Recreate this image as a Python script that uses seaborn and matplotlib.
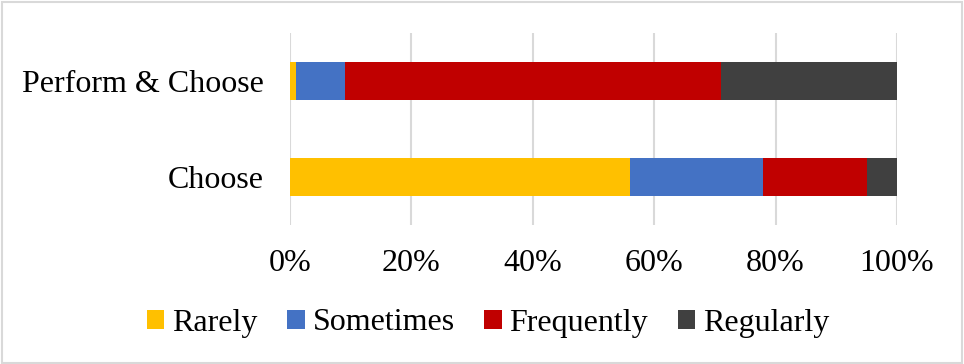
import matplotlib
matplotlib.use("Agg")
import matplotlib.pyplot as plt
from matplotlib.patches import Patch, Rectangle
import numpy as np
import pandas as pd
import seaborn as sns

# Share of responses (%) per frequency level, for each activity
categories = ["Perform & Choose", "Choose"]
levels = ["Rarely", "Sometimes", "Frequently", "Regularly"]
rarely = [1, 56]
sometimes = [8, 22]
frequently = [62, 17]
regularly = [29, 5]
colors = ["#FFC000", "#4472C4", "#C00000", "#404040"]
xticks = [0, 20, 40, 60, 80, 100]
xtick_labels = ["0%", "20%", "40%", "60%", "80%", "100%"]

sns.set_style("white")
plt.rcParams["font.family"] = ["Liberation Serif", "DejaVu Serif"]
plt.rcParams["text.color"] = "black"
FS = 23

values = np.array([rarely, sometimes, frequently, regularly], dtype=float)
cumulative = values.cumsum(axis=0)

fig = plt.figure(figsize=(9.64, 3.64), dpi=100)
ax = fig.add_axes([290 / 964, 1 - 225 / 364, 607 / 964, 192 / 364])

# Stacked bars: draw cumulative totals from the outermost segment inward
for i in range(len(levels) - 1, -1, -1):
    df = pd.DataFrame({"category": categories, "total": cumulative[i]})
    sns.barplot(data=df, x="total", y="category", order=categories,
                color=colors[i], saturation=1, width=0.4, ax=ax,
                linewidth=0, zorder=3)

ax.set_xlim(0, 100)
ax.set_ylim(1.5, -0.5)
ax.set_xticks(xticks)
ax.set_xticklabels(xtick_labels)
ax.set_xlabel("")
ax.set_ylabel("")
ax.grid(axis="x", color="#D9D9D9", linewidth=1.5, zorder=0)
ax.grid(axis="y", visible=False)
for s in ax.spines.values():
    s.set_visible(False)
ax.tick_params(axis="x", length=0, pad=17.5, labelsize=FS, colors="black")
ax.tick_params(axis="y", length=0, pad=19, labelsize=FS, colors="black")

handles = [Patch(facecolor=c, edgecolor="none", label=l) for c, l in zip(colors, levels)]
fig.legend(handles=handles, loc="center", bbox_to_anchor=(488 / 964, 1 - 323 / 364),
           ncol=4, frameon=False, fontsize=FS, handlelength=0.55, handleheight=0.55,
           handletextpad=0.25, columnspacing=0.92, borderaxespad=0,
           labelcolor="black")

# Light frame around the chart area
fig.patches.append(Rectangle((0.002, 0.004), 0.996, 0.99, transform=fig.transFigure,
                             fill=False, edgecolor="#D9D9D9", linewidth=1.5))

fig.savefig("out.png", dpi=100)
